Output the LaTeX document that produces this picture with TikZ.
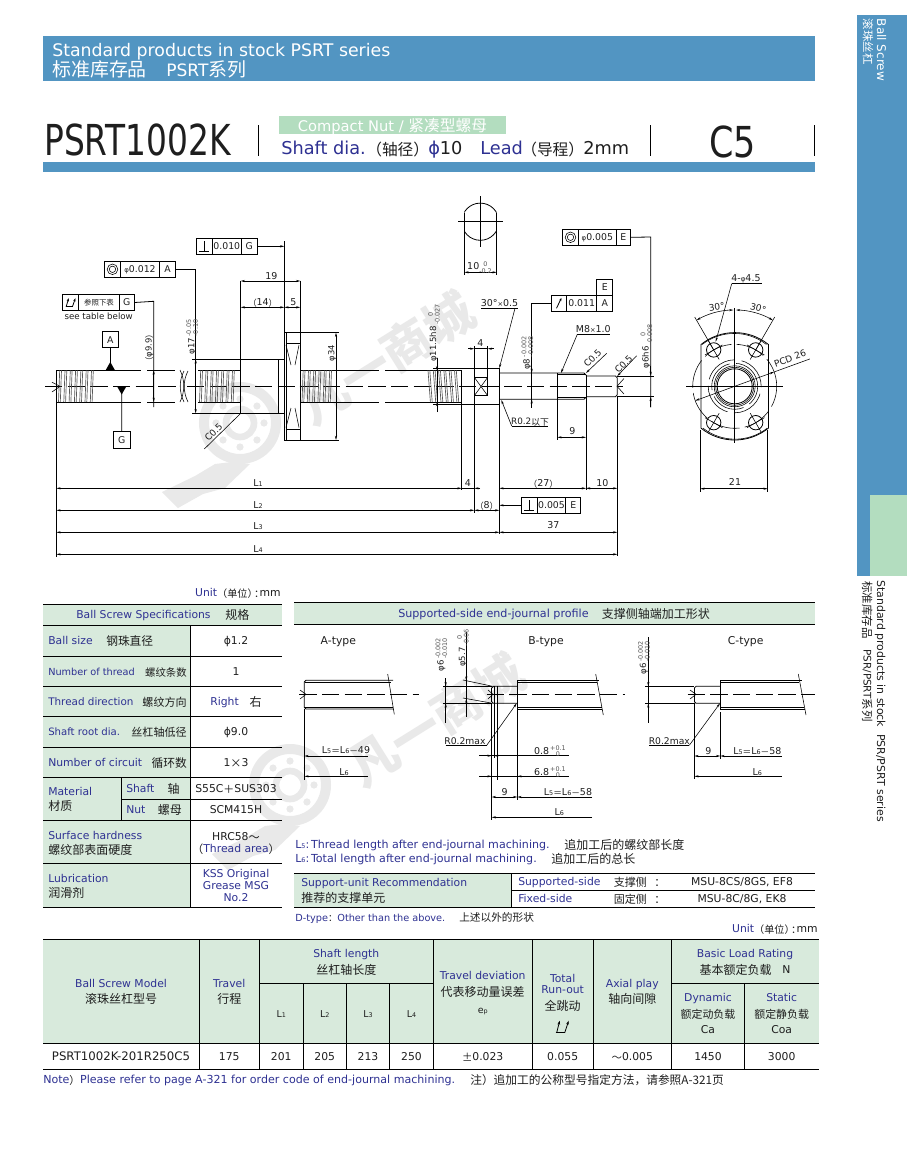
\documentclass[tikz,border=0pt]{standalone}
\usepackage{fontspec}
\usepackage{graphicx}
\setmainfont{DejaVu Sans}
\newfontfamily\cjk{Noto Sans CJK SC}
\usetikzlibrary{arrows.meta,calc}
\definecolor{bandblue}{HTML}{5295C2}
\definecolor{tabgreen}{HTML}{D8EADC}
\definecolor{brightgreen}{HTML}{B3DDBF}
\definecolor{navy}{HTML}{2E3192}
\definecolor{ink}{HTML}{1E1E1E}
\definecolor{wm}{HTML}{E9E9E9}
\definecolor{tolgray}{HTML}{555555}
\newcommand\fsz[1]{\fontsize{#1}{#1}\selectfont}
\newcommand\zh[2][9]{\raisebox{-.6pt}{\cjk\fsz{#1}\color{ink}#2}}
\newcommand\zw[2][8.4]{{\cjk\fsz{#1}\color{white}#2}}
\newcommand\en[1]{\textcolor{navy}{#1}}
\newcommand\ls[1]{{\fsz{4.8}#1}}
\newcommand\ph{{\fsz{5.2}φ}}
\newcommand\smx{{\fsz{5}×}}
\newcommand\unit{\en{Unit}\zh[7.6]{（单位）\hspace{-.35em}：\hspace{-.45em}}mm}
\newcommand\tol[2]{\raisebox{-.05em}{\fsz{4.8}\color{tolgray}\setlength\tabcolsep{0pt}\begin{tabular}{c}#1\\#2\end{tabular}}}
\newcounter{nn}
\newcommand\tx[3][]{\stepcounter{nn}\node[txt,#1] (t\thenn) at (#2) {#3};}
\newcommand\bxn[6]{\pgfmathsetmacro\mybw{(#4-#2)*.75}\pgfmathsetmacro\mybh{(#5-#3)*.75}\node[fbx,minimum width=\mybw pt,minimum height=\mybh pt] (#1) at ({(#2+#4)/2},{(#3+#5)/2}) {#6};}
\newcommand\runsym[3]{\begin{scope}[shift={(#1,#2)},scale=#3]
\draw[ln] (-7,6) -- (2,6);
\draw[ln,-{Stealth[length=3pt,width=2pt]}] (-6,6) -- (-3,-6);
\draw[ln,-{Stealth[length=3pt,width=2pt]}] (2,6) -- (6,-6);
\end{scope}}
\newcommand\thrd[2]{\foreach \xx in {#1,...,#2}{\draw[thr] (\xx+1.2,370.3) -- (\xx,402);\draw[thr] (\xx+3,370.3) -- (\xx+1.8,402);}}
\newcommand\wmark[1]{%
 \draw[wm,line width=7.5pt] (240,423) circle[radius=36];
 \draw[wm,line width=5pt] (240,423) circle[radius=14];
 \foreach \aa in {0,45,...,315}{\fill[wm] (240,423) ++(\aa:24) circle[radius=3.6];}
 \fill[wm] (232,462) -- (215,464) -- (195,476) -- (162,492) -- (178,508) -- (203,494) -- (225,488) -- (250,464) -- cycle;
 \node[font=\cjk\bfseries\fsz{37},text=wm,rotate=32,inner sep=0] (#1) at (386,358) {凡一商城};
}
\tikzset{
 txt/.style={inner sep=0pt,anchor=mid,font=\fsz{8.1},text=ink},
 dt/.style={font=\fsz{7.1}},
 rt/.style={rotate=90,anchor=mid west,font=\fsz{6.4}},
 fbx/.style={draw,line width=.6pt,inner sep=0pt,font=\fsz{7},text=ink},
 ln/.style={line width=.6pt,draw=black},
 thn/.style={line width=.42pt,draw=black},
 dimb/.style={thn,{Stealth[length=3.2pt,width=1.6pt]}-{Stealth[length=3.2pt,width=1.6pt]}},
 dimr/.style={thn,-{Stealth[length=3.2pt,width=1.6pt]}},
 diml/.style={thn,{Stealth[length=3.2pt,width=1.6pt]}-},
 axisl/.style={thn,dash pattern=on 13pt off 4pt},
 hid/.style={ln,dash pattern=on 32pt off 5pt},
 thr/.style={line width=.5pt,draw=black!65},
}
\begin{document}
\begin{tikzpicture}[x=.75pt,y=-.75pt]
\useasboundingbox (0,0) rectangle (907,1158);
\fill[white] (0,0) rectangle (907,1158);
% watermarks
\begin{scope}
\wmark{wma}
\end{scope}
\begin{scope}[shift={(50,362)}]
\wmark{wmb}
\end{scope}
% side tab
\fill[bandblue] (857,14.7) rectangle (907,576);
\fill[brightgreen] (870,495) rectangle (907,576);
\tx[rotate=-90,anchor=mid west,font=\fsz{9},text=white]{880.7,18.5}{Ball Screw}
\tx[rotate=-90,anchor=mid west,text=white]{867.3,18.7}{\zw[8.6]{滚珠丝杠}}
\tx[rotate=-90,anchor=mid west,font=\fsz{8.2}]{880.7,580}{Standard products in stock\ \ PSR/PSRT series}
\tx[rotate=-90,anchor=mid west]{867.3,581}{\zh[8.6]{标准库存品}\quad{\fsz{7.8}PSR/PSRT}\zh[8.6]{系列}}
% header bands
\fill[bandblue] (43,36) rectangle (815,81);
\fill[bandblue] (43,162) rectangle (815,172);
\tx[anchor=mid west,font=\fsz{13},text=white]{52,52.4}{Standard products in stock PSRT series}
\tx[anchor=mid west,font=\fsz{13},text=white]{52,72.4}{\zw[14.2]{标准库存品}\hspace{14.5pt}{\fsz{12.8}PSRT}\zw[14.2]{系列}}
\tx[anchor=mid west,font=\fsz{32}]{44,151.4}{\scalebox{.77}[1]{PSRT1002K}}
\draw[line width=.7pt] (258.3,125) -- (258.3,156);
\draw[line width=.7pt] (650,125) -- (650,156);
\draw[line width=.7pt] (814,125) -- (814,156);
\fill[brightgreen] (279,116) rectangle (506,134);
\tx[font=\fsz{11},text=white]{392.5,128}{Compact Nut / \zw[11.8]{紧凑型螺母}}
\tx[anchor=mid west,font=\fsz{13.3}]{281,150.7}{\en{Shaft dia.}}
\tx[anchor=mid west,font=\fsz{13.3}]{366,150.7}{\zh[11.8]{（轴径）}}
\tx[anchor=mid west,font=\fsz{13.3}]{428,150.7}{\en{ϕ}10}
\tx[anchor=mid west,font=\fsz{13.3}]{480,150.7}{\en{Lead}}
\tx[anchor=mid west,font=\fsz{13.3}]{521,150.7}{\zh[11.8]{（导程）}}
\tx[anchor=mid west,font=\fsz{13.3}]{583,150.7}{2mm}
\tx[font=\fsz{32}]{732.5,153.4}{\scalebox{.82}[1]{C5}}

% --- main drawing: left shaft
\draw[axisl] (45,386.3) -- (178,386.3);
\draw[axisl] (187,386.3) -- (623.3,386.3);
\draw[ln] (56.3,370.3) -- (98,370.3) (56.3,402) -- (98,402);
\draw[ln] (56.3,370.3) -- (56.3,402);
\thrd{58.5,63.8}{94}
\draw[thn] (52,382.2) -- (60,386.3) -- (52,392);
\draw[hid] (98,370.3) -- (175,370.3);
\draw[hid] (98,402) -- (175,402);
\draw[thn] (184,371) .. controls (179,380) and (179,392) .. (184,402);
\draw[thn] (188,371) .. controls (183,380) and (183,392) .. (188,402);
\draw[thn] (180,370) .. controls (185,380) and (185,392) .. (180,402);
\draw[ln] (198.3,370.3) -- (240.7,370.3) (198.3,402) -- (240.7,402);
\thrd{199.5,204.8}{236}
\draw[ln] (300.3,370.3) -- (336,370.3) (300.3,402) -- (336,402);
\thrd{302,307.3}{332}
\draw[hid] (336,370.3) -- (427,370.3);
\draw[hid] (336,402) -- (427,402);
% datums
\bxn{dA}{102.3}{331.7}{118.3}{347.7}{A}
\draw[ln] (dA.south) -- (110.3,370.3);
\fill (105.6,370.3) -- (110.3,362) -- (115,370.3) -- cycle;
\bxn{dG}{113.3}{431.7}{130}{448.3}{G}
\draw[ln] (dG.north) -- (121.7,386.3);
\fill (117,386.3) -- (121.7,394.5) -- (126.4,386.3) -- cycle;
% run-out FCF
\bxn{ra}{62.3}{294.7}{78.7}{310.3}{}
\bxn{rb}{78.7}{294.7}{119.3}{310.3}{\zh[5.6]{参照下表}}
\bxn{rc}{119.3}{294.7}{134.3}{310.3}{G}
\begin{scope}[shift={(ra.center)},scale=.62]
\draw[ln] (-8,7) -- (3,7);
\draw[ln,-{Stealth[length=2.5pt,width=1.8pt]}] (-7,7) -- (-3,-7);
\draw[ln,-{Stealth[length=2.5pt,width=1.8pt]}] (3,7) -- (8,-7);
\end{scope}
\tx[font=\fsz{6.5}]{98.7,316}{see table below}
\draw[ln] (rc.east) -- (153.7,301.3) -- (153.7,407);
\draw[dimb] (153.7,370.3) -- (153.7,402);
\tx[rotate=90,font=\fsz{6.3}]{148,348}{\zh[6.3]{（}φ9.9\zh[6.3]{）}}
% concentric FCF
\bxn{ca}{104.3}{261.3}{120.7}{277.3}{}
\bxn{cb}{120.7}{261.3}{159.3}{277.3}{\ph 0.012}
\bxn{cc}{159.3}{261.3}{175.7}{277.3}{A}
\draw[thn] (ca.center) circle[radius=5.3] circle[radius=3.2];
\draw[ln] (cc.east) -- (195.7,269.3) -- (195.7,361);
\draw[dimb] (195.7,359.3) -- (195.7,413.3);
\draw[thn] (192,359.3) -- (240.7,359.3) (192,413.3) -- (240.7,413.3);
\tx[rt]{190.7,354.5}{φ17\,\tol{-0.05}{-0.10}}
% perp FCF
\bxn{pa}{196.3}{238.3}{212.3}{254.3}{}
\bxn{pb}{212.3}{238.3}{241.3}{254.3}{0.010}
\bxn{pc}{241.3}{238.3}{257.3}{254.3}{G}
\draw[ln] ($(pa.center)+(-5,5)$) -- ($(pa.center)+(5,5)$) ($(pa.center)+(0,-5)$) -- ($(pa.center)+(0,5)$);
\draw[dimr] (pc.east) -- (284.3,246.3);
% nut
\draw[ln] (240.7,359.3) rectangle (278.3,413.3);
\draw[ln] (278.3,359.3) rectangle (284.3,413.3);
\draw[ln] (284.3,332.7) rectangle (300.3,440);
\draw[ln] (286,332.7) -- (286,440);
\draw[ln] (286,343.3) -- (300.3,343.3) (286,429.3) -- (300.3,429.3);
\draw[thn] (286,345) -- (291,365) (299,345) -- (295,365);
\draw[thn] (286,427.5) -- (291,408) (299,427.5) -- (295,408);
\draw[line width=1.1pt] (240.7,360) -- (240.7,370) (240.7,402) -- (240.7,413);
\draw[line width=1.1pt] (284.6,333) -- (284.6,365) (284.6,408) -- (284.6,440);
\draw[line width=1.1pt] (300.3,333) -- (300.3,370) (300.3,402) -- (300.3,440);
\draw[ln] (284.3,241) -- (284.3,333);
\draw[ln] (240.7,281) -- (240.7,359) (300.3,281) -- (300.3,333);
\draw[dimb] (240.7,281) -- (300.3,281);
\draw[dimb] (240.7,307.3) -- (284.3,307.3);
\draw[dimb] (284.3,307.3) -- (300.3,307.3);
\tx[dt]{271.3,275.7}{19}
\tx[dt]{262.7,301.7}{\zh[6.5]{（}14\zh[6.5]{）}}
\tx[dt]{293.3,301.7}{5}
\draw[thn] (300.3,332.7) -- (339,332.7) (300.3,440) -- (339,440);
\draw[dimb] (336,332.7) -- (336,440);
\tx[rotate=90,font=\fsz{6.3}]{330.7,353.3}{φ34}
\draw[thn] (240.7,413.3) -- (204.3,449);
\tx[rotate=45,font=\fsz{6.8}]{213.3,431.7}{C0.5}
% right-hand shaft
\draw[ln] (426.7,370.3) -- (461.7,370.3) (426.7,402) -- (461.7,402);
\foreach \xx in {428,433.3,...,458}{\draw[thr] (\xx,370.3) -- (\xx+2.4,402);\draw[thr] (\xx+1.8,370.3) -- (\xx+4.2,402);}
\draw[ln] (433,368) -- (474.3,368) (433,404.7) -- (474.3,404.7);
\draw[ln] (461.7,370.3) -- (461.7,402);
\draw[ln] (474.3,368) rectangle (499.3,404.7);
\draw[ln] (474.3,377.3) rectangle (487.7,395.7);
\draw[thn] (474.3,377.3) -- (487.7,395.7) (474.3,395.7) -- (487.7,377.3);
\draw[line width=1.1pt] (499.3,368) -- (499.3,373) (499.3,399.3) -- (499.3,404.7);
\draw[ln] (499.3,373) -- (584,373) -- (586,375) (499.3,399.3) -- (584,399.3) -- (586,397.3);
\draw[thn] (557.3,374.7) -- (586,374.7) (557.3,397.6) -- (586,397.6);
\draw[ln] (557.3,373) -- (557.3,399.3);
\draw[ln] (586,375) -- (586,397.3);
\draw[ln] (586,376) -- (615.5,376) -- (617.3,378) -- (617.3,394.7) -- (615.5,396.7) -- (586,396.7);
\draw[thn] (624,378.5) -- (617,386.3) -- (624,394) ;
% phi 11.5
\draw[thn] (437,360) -- (437,412);
\draw[dimr] (437,358) -- (437,370.3);
\draw[dimr] (437,412) -- (437,402);
\tx[rt]{432.5,362}{φ11.5h8\,\tol{0}{-0.027}}
% top circle
\begin{scope}
\clip (464.3,190) rectangle (496.7,250);
\draw[ln] (480.3,221.7) circle[radius=18.6];
\end{scope}
\draw[ln] (464.3,212.5) -- (464.3,275) (496.7,212.5) -- (496.7,275);
\draw[thn] (458,221.7) -- (503.3,221.7) (480.3,196) -- (480.3,247.3);
\draw[dimb] (464.3,272.3) -- (496.7,272.3);
\tx[dt]{479.5,266}{10\tol{0}{-0.2}}
% dim 4 top
\draw[thn] (474.3,346) -- (474.3,368) (487.7,346) -- (487.7,377);
\draw[dimr] (468,348.7) -- (474.3,348.7);
\draw[diml] (487.7,348.7) -- (494,348.7);
\draw[thn] (474.3,348.7) -- (487.7,348.7);
\tx[dt]{480.3,343.3}{4}
% 30x0.5
\tx[dt]{499.5,303.3}{30°\smx 0.5}
\draw[thn] (481,308.3) -- (517.7,308.3);
\draw[dimr] (515,308.3) -- (499.3,368.3);
% run-out E
\bxn{ea}{551.3}{295.3}{566.7}{311.3}{}
\bxn{eb}{566.7}{295.3}{596.7}{311.3}{0.011}
\bxn{ec}{596.7}{295.3}{612.7}{311.3}{A}
\bxn{ed}{596.7}{279.3}{612.7}{295.3}{E}
\draw[ln,-{Stealth[length=2.5pt,width=1.8pt]}] ($(ea.center)+(-2.5,5)$) -- ($(ea.center)+(2.5,-5.5)$);
\draw[ln] (ea.west) -- (531.7,303.3) -- (531.7,407.7);
\draw[dimr] (531.7,360) -- (531.7,373);
\draw[dimr] (531.7,407) -- (531.7,399.3);
\tx[rt]{526,370}{φ8\,\tol{-0.002}{-0.008}}
% concentric E
\bxn{ga}{562.3}{229.3}{578.7}{245.3}{}
\bxn{gb}{578.7}{229.3}{616}{245.3}{\ph 0.005}
\bxn{gc}{616}{229.3}{630.7}{245.3}{E}
\draw[thn] (ga.center) circle[radius=5.3] circle[radius=3.2];
\draw[ln] (gc.east) -- (650.7,237) -- (650.7,407.3);
\draw[dimr] (650.7,366) -- (650.7,376);
\draw[dimr] (650.7,407) -- (650.7,396.7);
\draw[thn] (617.3,376) -- (654,376) (617.3,396.7) -- (654,396.7);
\tx[rt]{645,368.5}{φ6h6\,\tol{0}{-0.008}}
% M8
\tx[dt]{593.3,329.3}{M8\smx 1.0}
\draw[thn] (577.3,334.3) -- (610,334.3);
\draw[dimr] (577.3,334.3) -- (561,373);
% C0.5 right
\draw[dimr] (606.7,353.3) -- (586,373);
\tx[rotate=45,font=\fsz{6.8}]{592.3,358}{C0.5}
\draw[dimr] (636.7,355.7) -- (617.3,376);
\tx[rotate=45,font=\fsz{6.8}]{623.3,364}{C0.5}
% R0.2
\tx[font=\fsz{6.6}]{530,420.7}{R0.2\zh[6.6]{以下}}
\draw[thn] (511.7,426) -- (547.7,426);
\draw[dimr] (511.7,426) -- (501.3,400);
% dim 9
\draw[thn] (557.3,399.3) -- (557.3,440);
\draw[dimb] (557.3,437.3) -- (586,437.3);
\tx[dt]{572.3,431}{9}
% long verticals
\draw[ln] (56.3,403) -- (56.3,556.7);
\draw[ln] (461.7,402) -- (461.7,490);
\draw[ln] (474.3,404.7) -- (474.3,512.7);
\draw[ln] (499.3,404.7) -- (499.3,534.3);
\draw[ln] (586,397) -- (586,490);
\draw[ln] (617.3,396.7) -- (617.3,555.7);
% dims along the bottom
\draw[dimb] (56.3,488.3) -- (461.7,488.3);
\draw[dimr] (480,488.3) -- (474.3,488.3);
\draw[thn] (461.7,488.3) -- (474.3,488.3);
\draw[dimb] (499.3,488.3) -- (586,488.3);
\draw[dimb] (586,488.3) -- (617.3,488.3);
\draw[dimb] (56.3,510.3) -- (474.3,510.3);
\draw[dimb] (474.3,510.3) -- (499.3,510.3);
\draw[dimb] (56.3,532.3) -- (499.3,532.3);
\draw[dimb] (499.3,532.3) -- (617.3,532.3);
\draw[dimb] (56.3,554.3) -- (617.3,554.3);
\tx[dt]{258,482.7}{L\ls{1}}
\tx[dt]{258,504.7}{L\ls{2}}
\tx[dt]{258,526}{L\ls{3}}
\tx[dt]{258,548.7}{L\ls{4}}
\tx[dt]{468,482.7}{4}
\tx[dt]{543.3,482.7}{\zh[6.5]{（}27\zh[6.5]{）}}
\tx[dt]{602.3,482.7}{10}
\tx[dt]{486.7,504.7}{\zh[6.5]{（}8\zh[6.5]{）}}
\tx[dt]{553.3,525}{37}
\bxn{ha}{521.3}{497.3}{537.3}{513.3}{}
\bxn{hb}{537.3}{497.3}{565.7}{513.3}{0.005}
\bxn{hc}{565.7}{497.3}{580.7}{513.3}{E}
\draw[ln] ($(ha.center)+(-5,5)$) -- ($(ha.center)+(5,5)$) ($(ha.center)+(0,-5)$) -- ($(ha.center)+(0,5)$);
\draw[dimr] (ha.west) -- (499.3,505.3);
% end view
\begin{scope}[shift={(734.7,386.3)},y=.75pt]
\draw[ln] (-33.7,41.8) arc[start angle=128.9,end angle=51.1,radius=53.7] -- (33.7,-41.8) arc[start angle=-51.1,end angle=-128.9,radius=53.7] -- cycle;
\draw[thn] (-32.6,41.8) arc[start angle=127.9,end angle=52.1,radius=52.4];
\draw[thn] (32.6,-41.8) arc[start angle=-52.1,end angle=-127.9,radius=52.4];
\draw[ln] (0,0) circle[radius=17.5];
\draw[thn] (0,0) circle[radius=19];
\draw[thn] (0,0) circle[radius=20.5];
\draw[thn,dash pattern=on 26pt off 5pt] (0,0) circle[radius=26.5];
\draw[thn,dash pattern=on 26pt off 5pt] (0,0) circle[radius=23];
\draw[thn,dash pattern=on 22pt off 4pt] (0,0) circle[radius=42];
\draw[thn] (-48.7,0) -- (48.7,0) (0,78) -- (0,-56.4);
\foreach \aa in {60,120,240,300}{
 \draw[ln] (\aa:42) circle[radius=7.2];
 \draw[thn] (\aa:31) -- (\aa:53);
 \draw[thn] (\aa:42) ++(\aa+90:10) -- ++(\aa-90:20);
}
\draw[thn] (60:42) -- (60:80) (120:42) -- (120:80);
\draw[dimb] (120:76.3) arc[start angle=120,end angle=91,radius=76.3];
\draw[dimb] (60:76.3) arc[start angle=60,end angle=89,radius=76.3];
\draw[thn] (20:42) -- (20:80);
\draw[dimb] (200:42) -- (20:42);
\end{scope}
\tx[dt]{746,278.3}{4-\ph 4.5}
\draw[thn] (731.7,283.7) -- (762.3,283.7);
\draw[dimr] (731.7,283.7) -- (715.7,341.7);
\tx[rotate=8,font=\fsz{6.8}]{716.7,306.7}{30°}
\tx[rotate=-14,font=\fsz{6.8}]{758.3,307.7}{30°}
\tx[rotate=20,font=\fsz{6.8}]{790,358}{PCD 26}
\draw[thn] (700.3,430) -- (700.3,492) (767.7,430) -- (767.7,492);
\draw[dimb] (700.3,488.7) -- (767.7,488.7);
\tx[dt]{735,482.3}{21}

% spec table
\tx[anchor=mid east]{281,593.3}{\unit}
\fill[tabgreen] (43.3,604.3) rectangle (281.7,625.3);
\fill[tabgreen] (43.3,625.3) rectangle (190.3,907.3);
\foreach \yy in {604.3,625.3,656.3,686.7,716.3,747.3,777.3,820.3,863.7,907.3}{\draw[ln] (43.3,\yy) -- (281.7,\yy);}
\draw[ln] (121.3,799.3) -- (281.7,799.3);
\draw[ln] (190.3,625.3) -- (190.3,907.3);
\draw[ln] (121.3,777.3) -- (121.3,820.3);
\tx[anchor=mid west]{76,615}{\en{Ball Screw Specifications}}
\tx[anchor=mid west]{225,615}{\zh{规格}}
\tx[anchor=mid west]{48,641}{\en{Ball size}}
\tx[anchor=mid west]{106,641}{\zh[8.8]{钢珠直径}}
\tx[anchor=mid west,font=\fsz{7.3}]{48,671.7}{\en{Number of thread}}
\tx[anchor=mid east]{187,671.7}{\zh[7.8]{螺纹条数}}
\tx[anchor=mid west,font=\fsz{7.8}]{48,702}{\en{Thread direction}}
\tx[anchor=mid east]{187,702}{\zh[8.3]{螺纹方向}}
\tx[anchor=mid west,font=\fsz{7.6}]{48,731.7}{\en{Shaft root dia.}}
\tx[anchor=mid east]{187,731.7}{\zh[8.3]{丝杠轴低径}}
\tx[anchor=mid west]{48,762.7}{\en{Number of circuit}}
\tx[anchor=mid east]{187,762.7}{\zh[8.8]{循环数}}
\tx{236,641}{ϕ1.2}
\tx{236,671.7}{1}
\tx{236,702}{\en{Right}\quad\zh{右}}
\tx{236,731.7}{ϕ9.0}
\tx{236,762.7}{1\zh[8.4]{×}3}
\tx[anchor=mid west]{48,792}{\en{Material}}
\tx[anchor=mid west]{48,806}{\zh{材质}}
\tx[anchor=mid west]{126,788.7}{\en{Shaft}}
\tx[anchor=mid west]{167.3,788.7}{\zh{轴}}
\tx[anchor=mid west]{126,810}{\en{Nut}}
\tx[anchor=mid west]{157.7,810}{\zh{螺母}}
\tx{236,788.7}{S55C\zh[8.2]{＋}SUS303}
\tx{236,810}{SCM415H}
\tx[anchor=mid west]{48,836}{\en{Surface hardness}}
\tx[anchor=mid west]{48,850}{\zh{螺纹部表面硬度}}
\tx{236,837}{HRC58\zh[8.4]{～}}
\tx{236,848.7}{\zh[8.4]{（}\en{Thread area}\zh[8.4]{）}}
\tx[anchor=mid west]{48,879}{\en{Lubrication}}
\tx[anchor=mid west]{48,893.3}{\zh{润滑剂}}
\tx{236,874}{\en{KSS Original}}
\tx{236,886}{\en{Grease MSG}}
\tx{236,898}{\en{No.2}}

% end-journal panel
\fill[tabgreen] (294,602.7) rectangle (815,624);
\draw[ln] (294,602.7) -- (815,602.7) (294,624) -- (815,624);
\tx[anchor=mid west,font=\fsz{8.35}]{398,614}{\en{Supported-side end-journal profile}}
\tx[anchor=mid west]{601.5,614}{\zh{支撑侧轴端加工形状}}
\tx{338.3,641}{A-type}
\tx{546,641}{B-type}
\tx{745.7,641}{C-type}
% A type
\draw[thn,dash pattern=on 13pt off 4pt] (299.3,694.3) -- (419,694.3);
\draw[ln] (393,680.3) -- (306,680.3) -- (304.3,682) -- (304.3,707.3) -- (306,709) -- (393,709);
\draw[thn] (305,682.3) -- (390.5,682.3) (305,707) -- (393,707);
\draw[thn] (387.7,674) -- (394.3,714.3);
\draw[thn] (300,690) -- (306,694.3) -- (300,699);
\draw[thn] (304.3,709) -- (304.3,780);
\draw[dimr] (367.7,756) -- (304.3,756);
\draw[dimr] (367.7,776.3) -- (304.3,776.3);
\tx[dt]{346,750}{L\ls{5}\zh[6.5]{＝}L\ls{6}\zh[6.5]{－}49}
\tx[dt]{344,771.7}{L\ls{6}}
% B type
\draw[thn,dash pattern=on 13pt off 4pt] (486.7,694.3) -- (625,694.3);
\draw[ln] (517.3,709) -- (517.3,680.3) -- (599,680.3);
\draw[ln] (517.3,709) -- (601.7,709);
\draw[thn] (517.3,682.3) -- (597,682.3) (517.3,707) -- (601.5,707);
\draw[thn] (595.7,674) -- (603.3,715);
\draw[ln] (491.7,688) -- (493.4,686.3) -- (517.3,686.3) (491.7,701.6) -- (493.4,703.3) -- (517.3,703.3);
\draw[ln] (491.7,688) -- (491.7,701.6);
\draw[thn] (494,686.3) -- (494,703.3) (497.3,686.3) -- (497.3,703.3);
\draw[thn] (488,690) -- (493,694.3) -- (488,699);
\draw[thn] (445.7,680) -- (445.7,722.7);
\draw[thn] (443,686.3) -- (491.7,686.3) (443,703.3) -- (491.7,703.3);
\draw[dimr] (445.7,678) -- (445.7,686.3);
\draw[dimr] (445.7,715) -- (445.7,703.3);
\tx[rt]{440,671.5}{φ6\,\tol{-0.002}{-0.010}}
\draw[thn] (466.3,631.7) -- (466.3,716.7);
\draw[thn] (463,680) -- (492.7,686.3) (463,698) -- (492.7,703.3);
\draw[dimr] (466.3,672) -- (466.3,680.7);
\draw[dimr] (466.3,708) -- (466.3,698.5);
\tx[rt]{461.5,667}{φ5.7\,\tol{0}{-0.06}}
\tx[font=\fsz{6.9}]{465,741}{R0.2max}
\draw[thn] (445.7,745.3) -- (486.7,745.3);
\draw[thn,-{Stealth[length=3.2pt,width=1.6pt]}] (486.7,745.3) -- (516.7,703.3);
\draw[ln] (491.7,703) -- (491.7,820);
\draw[thn] (494,703) -- (494,758) (497.3,703) -- (497.3,780);
\draw[ln] (517.3,709) -- (517.3,800);
\draw[thn] (479,755.7) -- (569,755.7) (479,776.3) -- (569,776.3);
\draw[dimr] (485,755.7) -- (491.7,755.7);
\draw[dimr] (500,755.7) -- (494,755.7);
\draw[dimr] (485,776.3) -- (491.7,776.3);
\draw[dimr] (524,776.3) -- (517.3,776.3);
\draw[dimb] (491.7,797) -- (517.3,797);
\draw[dimr] (592,797) -- (517.3,797);
\draw[dimr] (592,817.3) -- (491.7,817.3);
\tx[dt]{541.7,750.7}{0.8}
\tx[dt]{541.7,771.7}{6.8}
\tx[dt]{558,749.5}{\tol{+0.1}{0}}
\tx[dt]{558,770.5}{\tol{+0.1}{0}}
\tx[dt]{504.7,791.7}{9}
\tx[dt]{568,791.7}{L\ls{5}\zh[6.5]{＝}L\ls{6}\zh[6.5]{－}58}
\tx[dt]{559.3,812.3}{L\ls{6}}
% C type
\draw[thn,dash pattern=on 13pt off 4pt] (687.7,694.3) -- (815,694.3);
\draw[ln] (720.3,680.3) -- (720.3,709);
\draw[ln] (720.3,680.3) -- (802,680.3) (720.3,709) -- (804.5,709);
\draw[thn] (720.3,682.3) -- (799,682.3) (720.3,707) -- (804,707);
\draw[thn] (798.3,674) -- (806,715);
\draw[ln] (694.3,688) -- (696,686.3) -- (720.3,686.3) (694.3,701.6) -- (696,703.3) -- (720.3,703.3);
\draw[ln] (694.3,688) -- (694.3,701.6);
\draw[thn] (690,690) -- (696,694.3) -- (690,699);
\draw[thn] (648.3,637.3) -- (648.3,722.7);
\draw[thn] (645,686.3) -- (694.3,686.3) (645,703.3) -- (694.3,703.3);
\draw[dimr] (648.3,678) -- (648.3,686.3);
\draw[dimr] (648.3,713) -- (648.3,703.3);
\tx[rt]{642.5,674.5}{φ6\,\tol{-0.002}{-0.010}}
\tx[font=\fsz{6.9}]{669.3,741}{R0.2max}
\draw[thn] (649.3,745.3) -- (689.3,745.3);
\draw[thn,-{Stealth[length=3.2pt,width=1.6pt]}] (689.3,745.3) -- (720,703.3);
\draw[ln] (694.3,703) -- (694.3,779.3);
\draw[ln] (720.3,712) -- (720.3,759.3);
\draw[dimb] (694.3,756) -- (720.3,756);
\draw[dimr] (781.7,756) -- (720.3,756);
\draw[dimr] (781.7,776.3) -- (694.3,776.3);
\tx[dt]{708.3,751}{9}
\tx[dt]{757.3,751}{L\ls{5}\zh[6.5]{＝}L\ls{6}\zh[6.5]{－}58}
\tx[dt]{757.3,771.7}{L\ls{6}}
% L5 / L6
\tx[anchor=mid west,font=\fsz{8.3}]{295,845}{\en{L\ls{5}:}\,\en{Thread length after end-journal machining.}}
\tx[anchor=mid west]{564,845}{\zh[9]{追加工后的螺纹部长度}}
\tx[anchor=mid west,font=\fsz{8.3}]{295,859}{\en{L\ls{6}:}\,\en{Total length after end-journal machining.}}
\tx[anchor=mid west]{551,859}{\zh[9]{追加工后的总长}}
% support table
\fill[tabgreen] (294,873) rectangle (511.4,907.3);
\draw[ln] (294,873) -- (815,873) (511.4,890) -- (815,890) (294,907.3) -- (815,907.3);
\draw[ln] (511.4,873) -- (511.4,907.3);
\tx[anchor=mid west]{301,883}{\en{Support-unit Recommendation}}
\tx[anchor=mid west]{301,898}{\zh{推荐的支撑单元}}
\tx[anchor=mid west]{518,881.6}{\en{Supported-side}}
\tx[anchor=mid west]{613.5,881.6}{\zh[8.3]{支撑侧}}
\tx{660,882}{\zh[8.3]{：}}
\tx{742,881.6}{MSU-8CS/8GS, EF8}
\tx[anchor=mid west]{518,899}{\en{Fixed-side}}
\tx[anchor=mid west]{613.5,899}{\zh[8.3]{固定侧}}
\tx{660,899}{\zh[8.3]{：}}
\tx{742,899}{MSU-8C/8G, EK8}
\tx[anchor=mid west,font=\fsz{7.3}]{295,917.5}{\en{D-type}\zh[7]{：}\en{Other than the above.}}
\tx[anchor=mid west]{459,917.5}{\zh[8]{上述以外的形状}}
\tx[anchor=mid east]{818,929.3}{\unit}

% bottom table
\fill[tabgreen] (43.3,939.3) rectangle (819,1043.3);
\draw[ln] (43.3,939.3) -- (819,939.3) (43.3,1043.3) -- (819,1043.3) (43.3,1069.3) -- (819,1069.3);
\draw[ln] (259.3,983.3) -- (433.3,983.3) (671.3,983.3) -- (819,983.3);
\foreach \xx in {199.3,259.3,433.3,532.3,593.3,671.3}{\draw[ln] (\xx,939.3) -- (\xx,1069.3);}
\foreach \xx in {303.3,346.3,389.7,744.3}{\draw[ln] (\xx,983.3) -- (\xx,1069.3);}
\tx{121,984}{\en{Ball Screw Model}}
\tx{121,999.3}{\zh{滚珠丝杠型号}}
\tx{229.3,984}{\en{Travel}}
\tx{229.3,999.3}{\zh{行程}}
\tx{346.3,954}{\en{Shaft length}}
\tx{346.3,970}{\zh{丝杠轴长度}}
\tx[dt]{281.3,1014.3}{L\ls{1}}
\tx[dt]{324.8,1014.3}{L\ls{2}}
\tx[dt]{368,1014.3}{L\ls{3}}
\tx[dt]{411.5,1014.3}{L\ls{4}}
\tx{482.7,976}{\en{Travel deviation}}
\tx{482.7,992}{\zh{代表移动量误差}}
\tx[dt]{482.7,1010}{e\ls{p}}
\tx{562.7,979}{\en{Total}}
\tx{562.7,990}{\en{Run-out}}
\tx{562.7,1006}{\zh{全跳动}}
\runsym{562.7}{1026.7}{1}
\tx{632.3,984}{\en{Axial play}}
\tx{632.3,999.3}{\zh{轴向间隙}}
\tx{745,954}{\en{Basic Load Rating}}
\tx{745,970}{\zh{基本额定负载}\quad N}
\tx{708,998}{\en{Dynamic}}
\tx{708,1014}{\zh[8.2]{额定动负载}}
\tx{708,1030}{Ca}
\tx{781.7,998}{\en{Static}}
\tx{781.7,1014}{\zh[8.2]{额定静负载}}
\tx{781.7,1030}{Coa}
\tx[font=\fsz{8.8}]{121,1057}{PSRT1002K-201R250C5}
\tx{229.3,1057}{175}
\tx{281.3,1057}{201}
\tx{324.8,1057}{205}
\tx{368,1057}{213}
\tx{411.5,1057}{250}
\tx{482.7,1057}{\zh[7.8]{±}0.023}
\tx{562.7,1057}{0.055}
\tx{632.3,1057}{\zh[7.8]{～}0.005}
\tx{708,1057}{1450}
\tx{781.7,1057}{3000}
\tx[anchor=mid west,font=\fsz{8.3}]{43,1080.3}{\en{Note}\zh[8]{）}\en{Please refer to page A-321 for order code of end-journal machining.}}
\tx[anchor=mid west]{470,1080.3}{\zh[8.8]{注）追加工的公称型号指定方法，请参照A-321页}}
\end{tikzpicture}
\end{document}
